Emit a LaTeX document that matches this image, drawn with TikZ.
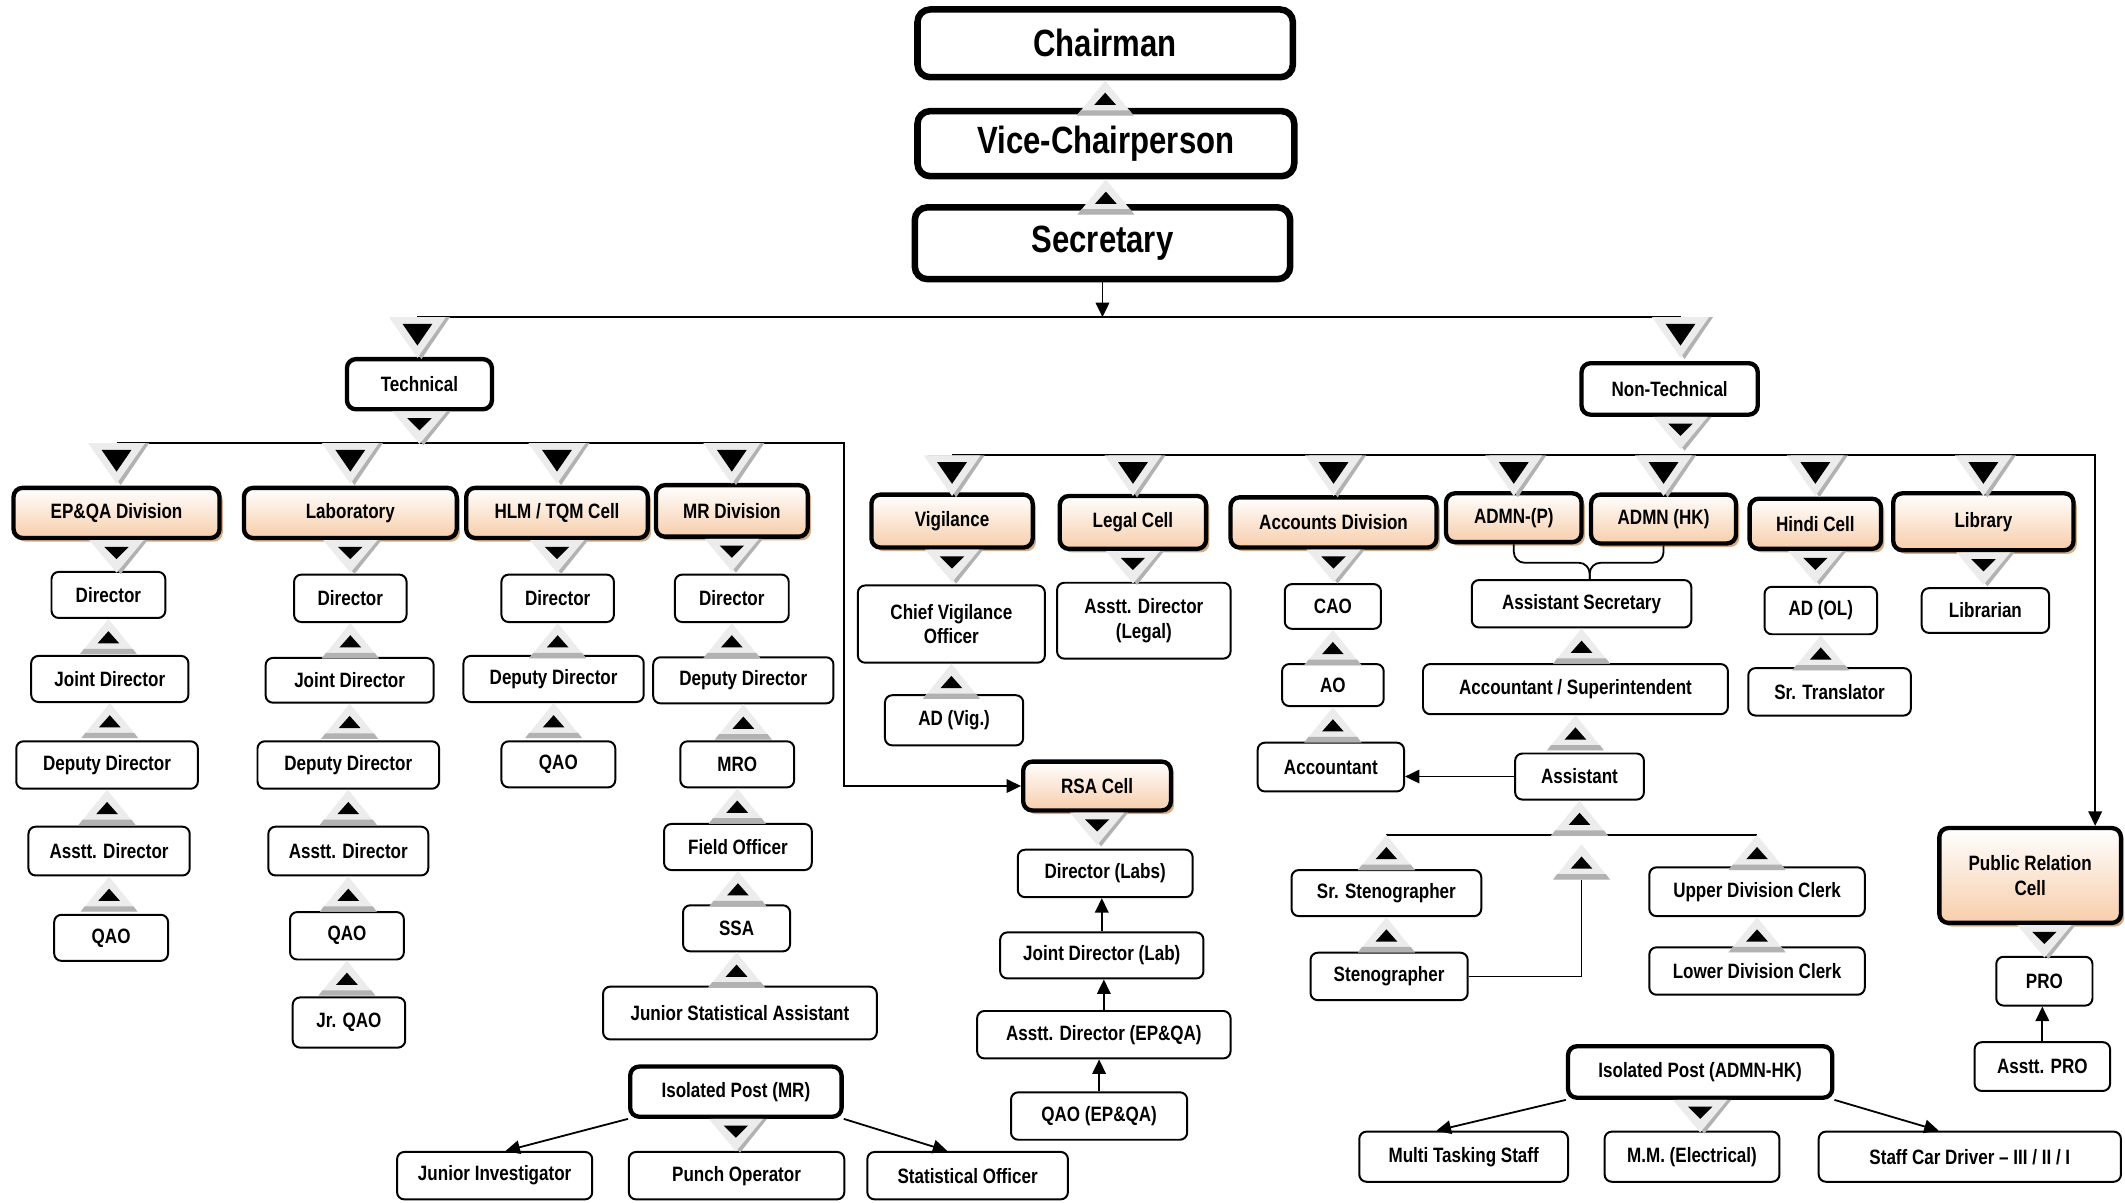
\documentclass[tikz,border=0pt]{standalone}
\usepackage{fontspec}
\setmainfont{Liberation Sans}[FakeStretch=0.82]
\usetikzlibrary{arrows.meta,calc,shadows}
\definecolor{peach}{RGB}{247,205,170}
\definecolor{divshadow}{RGB}{215,172,135}
\definecolor{mklight}{RGB}{236,236,236}
\definecolor{mkshade}{RGB}{178,178,178}
\tikzset{
post/.style={draw,line width=1.1pt,rounded corners=4pt,fill=white,inner sep=0pt,align=center},
headbox/.style={post,line width=3.6pt,rounded corners=7pt,font=\bfseries\fontsize{21}{24}\selectfont},
grpbox/.style={post,line width=2.4pt,rounded corners=5pt},
unit/.style={post,line width=2.4pt,rounded corners=5pt,top color=white,bottom color=peach,
  drop shadow={shadow xshift=1.8pt,shadow yshift=-2pt,fill=divshadow,opacity=1}},
sz/.style 2 args={minimum width=#1*0.75pt,minimum height=#2*0.75pt},
arr/.style={-{Triangle[length=8pt,width=7.5pt]},line width=1pt},
link/.style={line width=1pt},
bigdn/.pic={
  \fill[mkshade] (-18,0) -- (24,0) -- (3,31) -- cycle;
  \fill[mklight] (-21,0) -- (21,0) -- (0,30) -- cycle;
  \fill (-11,5) -- (11,5) -- (0,21) -- cycle;
},
smalldn/.pic={
  \fill[mkshade] (-17,0) -- (23,0) -- (3,25) -- cycle;
  \fill[mklight] (-20,0) -- (20,0) -- (0,24) -- cycle;
  \fill (-9,5) -- (9,5) -- (0,14) -- cycle;
},
upmk/.pic={
  \fill[mklight] (0,0) -- (21,26) -- (-21,26) -- cycle;
  \fill[mkshade] (-18,22) -- (18,22) -- (21,26) -- (-21,26) -- cycle;
  \fill (0,9) -- (8,18) -- (-8,18) -- cycle;
},
}
\tikzstyle{every node}=[font=\bfseries\fontsize{11.5}{13.5}\selectfont]

\begin{document}
\begin{tikzpicture}[x=0.75pt,y=-0.75pt]
\useasboundingbox (0,0) rectangle (1568,887);

\node[headbox,sz={277}{50}] (chm) at (815.5,32) {Chairman};
\node[headbox,sz={278}{48}] (vcp) at (816,106) {Vice-Chairperson};
\node[headbox,sz={277}{53}] (sec) at (813.5,179.5) {Secretary};
\node[grpbox,sz={107}{37}] (tech) at (309.5,283.5) {Technical};
\node[grpbox,sz={130}{38}] (ntec) at (1232,287) {Non-Technical};

% divisions
\node[unit,sz={152}{37}] (epq) at (86,378.5) {EP\&QA Division};
\node[unit,sz={157}{37}] (lab) at (258.5,378.5) {Laboratory};
\node[unit,sz={134}{37}] (hlm) at (411,378.5) {HLM / TQM Cell};
\node[unit,sz={112}{38}] (mrd) at (540,377) {MR Division};
\node[unit,sz={119}{39}] (vig) at (702.5,384.5) {Vigilance};
\node[unit,sz={108}{39}] (leg) at (836,385.5) {Legal Cell};
\node[unit,sz={152}{37}] (acc) at (984,385.5) {Accounts Division};
\node[unit,sz={100}{36}] (admp) at (1117,382) {ADMN-(P)};
\node[unit,sz={107}{36}] (admh) at (1227.5,383) {ADMN (HK)};
\node[unit,sz={97}{37}] (hin) at (1339.5,386.5) {Hindi Cell};
\node[unit,sz={133}{42}] (lib) at (1463.5,385) {Library};
\node[unit,sz={109}{36}] (rsa) at (809.5,580) {RSA Cell};
\node[unit,sz={134}{70}] (prc) at (1498,646) {Public Relation\\Cell};

\node[post,sz={84}{34}] (e1) at (80,439) {Director};
\node[post,sz={116}{34}] (e2) at (81,501) {Joint Director};
\node[post,sz={134}{35}] (e3) at (79,564.5) {Deputy Director};
\node[post,sz={119}{36}] (e4) at (80.5,628) {Asstt. Director};
\node[post,sz={84}{34}] (e5) at (82,692) {QAO};

\node[post,sz={83}{35}] (l1) at (258.5,441.5) {Director};
\node[post,sz={124}{33}] (l2) at (258,502) {Joint Director};
\node[post,sz={134}{35}] (l3) at (257,564.5) {Deputy Director};
\node[post,sz={118}{36}] (l4) at (257,628) {Asstt. Director};
\node[post,sz={84}{35}] (l5) at (256,690.5) {QAO};
\node[post,sz={83}{37}] (l6) at (257.5,754.5) {Jr. QAO};

\node[post,sz={83}{35}] (h1) at (411.5,441.5) {Director};
\node[post,sz={133}{34}] (h2) at (408.5,501) {Deputy Director};
\node[post,sz={84}{34}] (h3) at (412,564) {QAO};

\node[post,sz={84}{35}] (m1) at (540,441.5) {Director};
\node[post,sz={133}{34}] (m2) at (548.5,502) {Deputy Director};
\node[post,sz={84}{34}] (m3) at (544,564) {MRO};
\node[post,sz={109}{34}] (m4) at (544.5,625) {Field Officer};
\node[post,sz={79}{34}] (m5) at (543.5,685) {SSA};
\node[post,sz={202}{39}] (m6) at (546,747.5) {Junior Statistical Assistant};

\node[grpbox,sz={156}{37}] (imr) at (543,805.5) {Isolated Post (MR)};
\node[post,sz={144}{35}] (i1) at (365,867.5) {Junior Investigator};
\node[post,sz={159}{35}] (i2) at (543.5,867.5) {Punch Operator};
\node[post,sz={148}{35}] (i3) at (714,867.5) {Statistical Officer};

\node[post,sz={129}{35}] (r1) at (815.5,644.5) {Director (Labs)};
\node[post,sz={150}{34}] (r2) at (813,705) {Joint Director (Lab)};
\node[post,sz={187}{35}] (r3) at (814.5,763.5) {Asstt. Director (EP\&QA)};
\node[post,sz={130}{35}] (r4) at (811,823.5) {QAO (EP\&QA)};

\node[post,sz={138}{57}] (v1) at (702,460.5) {Chief Vigilance\\Officer};
\node[post,sz={102}{37}] (v2) at (704,531.5) {AD (Vig.)};
\node[post,sz={128}{56}] (g1) at (844,458) {Asstt. Director\\(Legal)};

\node[post,sz={71}{33}] (a1) at (983.5,447.5) {CAO};
\node[post,sz={75}{31}] (a2) at (983.5,505.5) {AO};
\node[post,sz={108}{36}] (a3) at (982,566) {Accountant};

\node[post,sz={162}{35}] (d1) at (1167,445.5) {Assistant Secretary};
\node[post,sz={225}{37}] (d2) at (1162.5,508.5) {Accountant / Superintendent};
\node[post,sz={95}{34}] (d3) at (1165.5,573) {Assistant};
\node[post,sz={140}{34}] (d4) at (1023,659) {Sr. Stenographer};
\node[post,sz={116}{35}] (d5) at (1025,720.5) {Stenographer};
\node[post,sz={159}{36}] (d6) at (1296.5,658) {Upper Division Clerk};
\node[post,sz={159}{35}] (d7) at (1296.5,716.5) {Lower Division Clerk};

\node[post,sz={83}{35}] (n1) at (1343.5,450.5) {AD (OL)};
\node[post,sz={120}{35}] (n2) at (1350,510.5) {Sr. Translator};
\node[post,sz={94}{33}] (b1) at (1465,450.5) {Librarian};
\node[post,sz={71}{36}] (p1) at (1508.5,724) {PRO};
\node[post,sz={100}{36}] (p2) at (1507,787) {Asstt. PRO};

\node[grpbox,sz={195}{38}] (ihk) at (1254.5,791) {Isolated Post (ADMN-HK)};
\node[post,sz={154}{37}] (k1) at (1080,853.5) {Multi Tasking Staff};
\node[post,sz={129}{37}] (k2) at (1248.5,853.5) {M.M. (Electrical)};
\node[post,sz={223}{37}] (k3) at (1453.5,853.5) {Staff Car Driver – III / II / I};

\coordinate (ml) at (308,234);
\coordinate (mr) at (1240,234);
\coordinate (tl) at (86,327);
\coordinate (tr) at (623,327);
\coordinate (nl) at (702.5,336);
\coordinate (nr) at (1546,336);
\coordinate (hl) at (1166,616);
\coordinate (sj) at (1167,623);
\coordinate (bj) at ($(d1.north)+(6,-12)$);

\draw[arr] (sec.south) -- (sec.south |- ml);
\draw[link] (ml) -- (mr);
\draw[arr] (tl) -- (tr) |- (rsa.west);
\draw[arr] (nl) -- (nr) -- (nr |- prc.north);
\draw[link,rounded corners=6pt] (admp.south) |- (bj) -- (d1.north -| bj);
\draw[link,rounded corners=6pt] (admh.south) |- (bj) -- (d1.north -| bj);
\draw[arr] (d3.west) -- (d3.west -| a3.east);
\draw[link] (d4.north |- hl) -- (d6.north |- hl);
\draw[link] (d5.east) -| ($(sj)+(0,26)$);
\draw[arr] (r4.north) -- (r4.north |- r3.south);
\draw[arr] (r3.north) -- (r3.north |- r2.south);
\draw[arr] (r2.north) -- (r2.north |- r1.south);
\draw[arr] (p2.north) -- (p2.north |- p1.south);
\draw[arr] (imr.south west) -- ($(i1.north)+(8,0)$);
\draw[arr] (imr.south east) -- ($(i3.north)+(-15,0)$);
\draw[arr] (ihk.south west) -- ($(k1.north)+(-20,0)$);
\draw[arr] (ihk.south east) -- ($(k3.north)+(-23,0)$);

\pic at (ml) {bigdn};
\pic at (mr) {bigdn};
\foreach \d in {epq,lab,hlm,mrd} \pic at (\d.north |- tl) {bigdn};
\foreach \d in {vig,leg,acc,admp,admh,hin,lib} \pic at (\d.north |- nl) {bigdn};
\foreach \d in {tech,epq,lab,hlm,mrd,vig,leg,acc,hin,lib,rsa,imr,ihk} \pic at (\d.south) {smalldn};
\pic at (mr |- ntec.south) {smalldn};
\pic at (p1.north |- prc.south) {smalldn};
\foreach \a in {chm,vcp,e1,e2,e3,e4,l1,l2,l3,l4,l5,h1,h2,m1,m2,m3,m4,m5,v1,a1,a2,d1,d2,d3,d4,d6,n1} \pic at (\a.south) {upmk};
\pic at (d4.north |- hl) {upmk};
\pic at (d6.north |- hl) {upmk};
\pic at (sj) {upmk};
\end{tikzpicture}
\end{document}
